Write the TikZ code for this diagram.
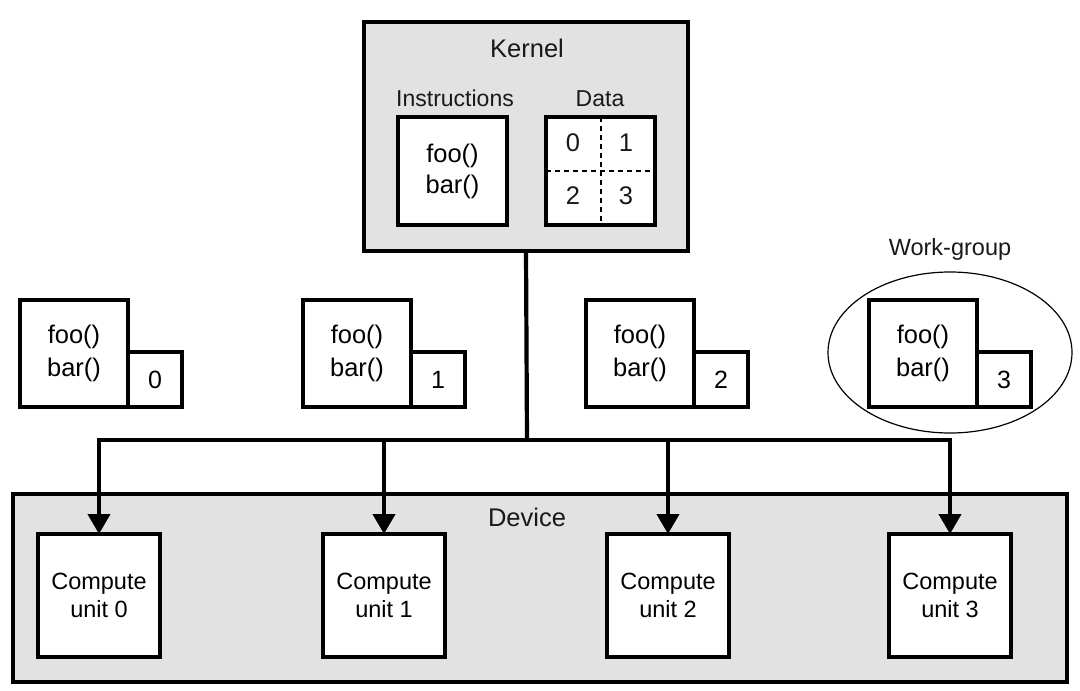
\documentclass[tikz,border=0pt]{standalone}
\usepackage{fontspec}
\setmainfont{Liberation Sans}
\usetikzlibrary{arrows.meta,shapes.geometric}
\definecolor{panel}{HTML}{E2E2E2}
\begin{document}
\begin{tikzpicture}[x=1pt,y=-1pt,
  panelbox/.style={draw=black,fill=panel,line width=3.3pt,inner sep=0pt,outer sep=0pt},
  whitebox/.style={draw=black,fill=white,line width=3.3pt,inner sep=0pt,outer sep=0pt},
  lbl/.style={inner sep=0pt,text=black!90},
  bus/.style={line width=4.2pt,line join=miter},
  busarrow/.style={bus,-{Triangle[width=22pt,length=20pt]}},
  dashsep/.style={line width=2pt,dash pattern=on 5pt off 4pt}
]
\useasboundingbox (0,0) rectangle (1080,691);
% Kernel
\node[panelbox,minimum width=324pt,minimum height=229pt] (kernel) at (526,136.5) {};
\node[lbl,font=\fontsize{25.5}{30}\selectfont] (ktitle) at (527,48) {Kernel};
\node[lbl,font=\fontsize{23}{27}\selectfont] (instrlbl) at (455,98) {Instructions};
\node[lbl,font=\fontsize{23}{27}\selectfont] (datalbl) at (600,99) {Data};
\node[whitebox,minimum width=109pt,minimum height=108pt,align=center,
      font=\fontsize{25.5}{31}\selectfont] (instr) at (452.5,171) {foo()\\bar()};
\node[whitebox,minimum width=109pt,minimum height=108pt] (data) at (600.5,171) {};
\draw[dashsep] (data.north) -- (data.south);
\draw[dashsep] (data.west) -- (data.east);
\foreach \n/\px/\py in {0/573/143,1/626/143,2/573/196,3/626/196}
  \node[lbl,font=\fontsize{25.5}{28}\selectfont] (d\n) at (\px,\py) {\n};
% Work-groups
\foreach \i/\L in {0/20,1/303,2/586,3/869}{
  \node[whitebox,minimum width=108pt,minimum height=107pt,align=center,
        font=\fontsize{25.5}{33}\selectfont] (wg\i) at (\L+54,353.5) {foo()\\bar()};
  \node[whitebox,minimum width=54pt,minimum height=55pt,
        font=\fontsize{25}{28}\selectfont] (wn\i) at (\L+135,379.5) {\i};
}
\node[draw=black,line width=1.2pt,ellipse,minimum width=244pt,minimum height=161pt,inner sep=0pt] (wgell) at (950,352.5) {};
\node[lbl,font=\fontsize{23.5}{28}\selectfont] (wglbl) at (950,249) {Work-group};
% Device
\node[panelbox,minimum width=1054pt,minimum height=188pt] (device) at (540,588) {};
\node[lbl,font=\fontsize{25.5}{30}\selectfont] (devlbl) at (527,517) {Device};
\foreach \i/\cx in {0/99,1/384,2/668,3/950}
  \node[whitebox,minimum width=122pt,minimum height=123pt,align=center,
        font=\fontsize{23.5}{28}\selectfont] (cu\i) at (\cx,595.5) {Compute\\unit \i};
% Bus
\coordinate (hub) at (527,440);
\draw[bus] (kernel.south) -- (hub);
\draw[busarrow] (hub) -| (cu0.north);
\draw[busarrow] (hub) -| (cu1.north);
\draw[busarrow] (hub) -| (cu2.north);
\draw[busarrow] (hub) -| (cu3.north);
\end{tikzpicture}
\end{document}
